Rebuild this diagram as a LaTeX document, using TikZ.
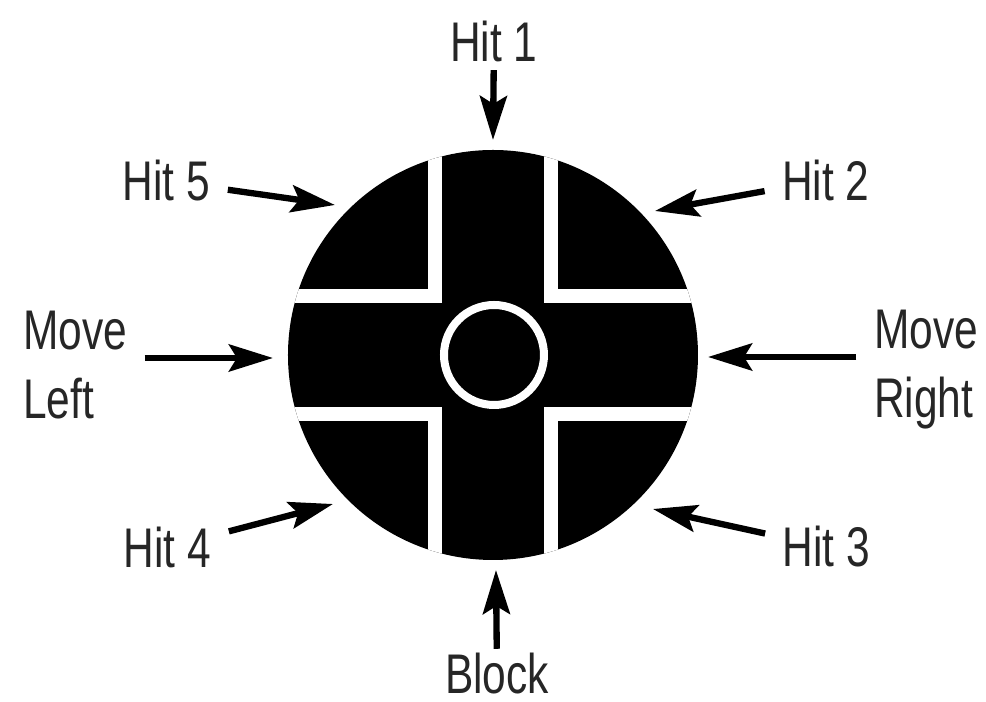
\documentclass[tikz,border=0pt]{standalone}
\usepackage{fontspec}
\setmainfont{Liberation Sans}[FakeStretch=0.76]
\usepackage{tikz}
\usetikzlibrary{arrows.meta}
\tikzset{lbl/.style={font=\fontsize{15.9}{19.6}\selectfont,text=black!85,inner xsep=0.17cm,inner ysep=0.08cm,align=left},
  hitarrow/.style={line width=1.8pt,-{Stealth[length=4.4mm,width=2.7mm,inset=0.8mm]}},
  gapline/.style={white,line width=0.14cm}}

\begin{document}
\begin{tikzpicture}[scale=1]
\useasboundingbox (-4.93,-3.47) rectangle (4.93,3.55);
\fill (0,0) circle (2.05);
\begin{scope}
\clip (0,0) circle (2.05);
\draw[gapline] (-0.58,2.1)--(-0.58,0.59)--(-2.1,0.59); \draw[gapline] (0.58,2.1)--(0.58,0.59)--(2.1,0.59);
\draw[gapline] (-0.58,-2.1)--(-0.58,-0.59)--(-2.1,-0.59); \draw[gapline] (0.58,-2.1)--(0.58,-0.59)--(2.1,-0.59);
\end{scope}
\draw[white,line width=0.08cm] (0.01,0) circle (0.50);
\node[lbl] (h1) at (0.01,3.14) {Hit 1}; \coordinate (c1) at (0,2.15);
\node[lbl] (h2) at (3.33,1.75) {Hit 2}; \coordinate (c2) at (1.62,1.44);
\node[lbl] (h3) at (3.335,-1.92) {Hit 3}; \coordinate (c3) at (1.60,-1.54);
\node[lbl] (h4) at (-3.255,-1.925) {Hit 4}; \coordinate (c4) at (-1.60,-1.49);
\node[lbl] (h5) at (-3.265,1.74) {Hit 5}; \coordinate (c5) at (-1.58,1.50);
\node[lbl] (ml) at (-4.18,-0.10) {Move\\Left}; \coordinate (cl) at (-2.20,-0.03);
\node[lbl] (mr) at (4.33,-0.15) {Move\\Right}; \coordinate (cr) at (2.15,-0.02);
\node[lbl,inner ysep=0.04cm] (blk) at (0.04,-3.19) {Block}; \coordinate (cb) at (0.03,-2.15);
\draw[hitarrow] (h1)--(c1); \draw[hitarrow] (h2)--(c2); \draw[hitarrow] (h3)--(c3);
\draw[hitarrow] (h4)--(c4); \draw[hitarrow] (h5)--(c5); \draw[hitarrow] (blk)--(cb);
\draw[hitarrow] (ml.east|-cl)--(cl); \draw[hitarrow] (mr.west|-cr)--(cr);
\end{tikzpicture}
\end{document}
